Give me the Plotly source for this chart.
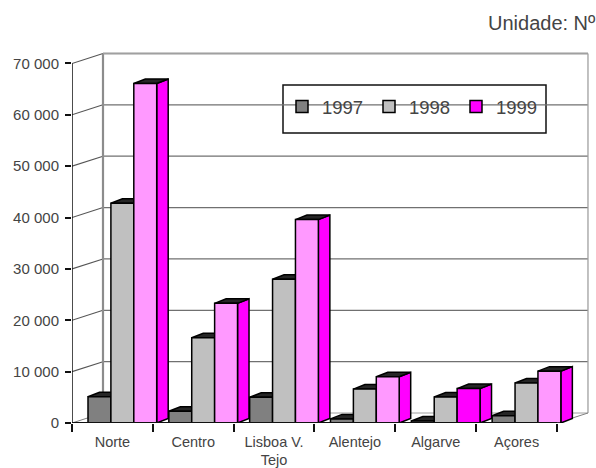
import plotly.graph_objects as go

regions = ["Norte", "Centro", "Lisboa V.<br>Tejo", "Alentejo", "Algarve", "Açores"]
values_1997 = [5100, 2300, 5000, 800, 400, 1400]
values_1998 = [42800, 16600, 28000, 6600, 5050, 7800]
values_1999 = [66100, 23300, 39600, 9000, 6700, 10100]
y_ticks = [0, 10000, 20000, 30000, 40000, 50000, 60000, 70000]
y_tick_labels = ["0", "10 000", "20 000", "30 000", "40 000", "50 000", "60 000", "70 000"]

WIDTH, HEIGHT = 596, 468
LEFT, RIGHT, TOP, BOTTOM = 72, 592, 44, 423.5
X_PX = 80.83            # pixels per category
Y_PX = 360 / 70000      # pixels per unit
x_max = (RIGHT - LEFT) / X_PX
y_max = (BOTTOM - TOP) / Y_PX

WALL_DX, WALL_DY = 31 / X_PX, 10 / Y_PX   # depth of the back wall
BAR_DX, BAR_DY = 11.5 / X_PX, 4.5 / Y_PX  # depth of each bar
BAR_W = 22.9 / X_PX
GROUP_START = 16 / X_PX

GRAY_DARK, GRAY_LIGHT = "#808080", "#c0c0c0"
PINK, MAGENTA = "#ff99ff", "#ff00ff"
INK = "#000000"
WALL = "#8c8c8c"
TEXT = "#444444"

series = [
    ("1997", values_1997, GRAY_DARK, "#5a5a5a"),
    ("1998", values_1998, GRAY_LIGHT, "#8a8a8a"),
    ("1999", values_1999, PINK, MAGENTA),
]


def poly(points, fill, line=INK, width=1.5, layer="below"):
    path = "M " + " L ".join(f"{x},{y}" for x, y in points) + " Z"
    return dict(type="path", path=path, fillcolor=fill, xref="x", yref="y",
                line=dict(color=line, width=width), layer=layer)


def seg(x0, y0, x1, y1, color, width):
    return dict(type="line", x0=x0, y0=y0, x1=x1, y1=y1, xref="x", yref="y",
                line=dict(color=color, width=width), layer="below")


shapes = []

# back wall: gridlines, slanted returns to the value axis, right edge
for v in y_ticks[1:]:
    shapes.append(seg(WALL_DX, v + WALL_DY, 6 + WALL_DX, v + WALL_DY, "#707070", 1.3))
    shapes.append(seg(0, v, WALL_DX, v + WALL_DY, "#555555", 1.1))
shapes.append(seg(WALL_DX, WALL_DY, WALL_DX, 70000 + WALL_DY, WALL, 2.2))
shapes.append(seg(6 + WALL_DX, WALL_DY, 6 + WALL_DX, 70000 + WALL_DY, "#a0a0a0", 1.3))
shapes.append(seg(WALL_DX, 70000 + WALL_DY, 6 + WALL_DX, 70000 + WALL_DY, "#a0a0a0", 1.5))
shapes.append(seg(WALL_DX, WALL_DY, 6 + WALL_DX, WALL_DY, "#a0a0a0", 1.0))
shapes.append(seg(0, 0, WALL_DX, WALL_DY, "#808080", 1.0))
shapes.append(seg(6, 0, 6 + WALL_DX, WALL_DY, "#808080", 1.0))

# side and top faces of every bar, with the fronts drawn over them as bar traces
for g in range(len(regions)):
    for s, (_, vals, _, side) in enumerate(series):
        x0 = g + GROUP_START + s * BAR_W
        x1 = x0 + BAR_W
        v = vals[g]
        shapes.append(poly([(x1, 0), (x1 + BAR_DX, BAR_DY), (x1 + BAR_DX, v + BAR_DY), (x1, v)], side))
        shapes.append(poly([(x0, v), (x0 + BAR_DX, v + BAR_DY), (x1 + BAR_DX, v + BAR_DY), (x1, v)], "#262626"))

# legend frame
shapes.append(dict(type="rect", xref="paper", yref="paper",
                   x0=(283 - LEFT) / (RIGHT - LEFT), x1=(546 - LEFT) / (RIGHT - LEFT),
                   y0=(BOTTOM - 133) / (BOTTOM - TOP), y1=(BOTTOM - 85) / (BOTTOM - TOP),
                   fillcolor="white", line=dict(color="#111111", width=1.5), layer="below"))

centers = [g + GROUP_START + 1.5 * BAR_W for g in range(len(regions))]


def front(name, idx, vals, color, s, legend=True):
    return go.Bar(
        x=[centers[g] for g in idx], y=[vals[g] for g in idx], name=name,
        width=BAR_W, offset=(s - 1.5) * BAR_W, showlegend=legend,
        marker=dict(color=color, line=dict(color=INK, width=1.5)),
        hoverinfo="x+y",
    )


everywhere = list(range(len(regions)))
algarve = regions.index("Algarve")
others = [g for g in everywhere if g != algarve]

fig = go.Figure([
    front("1997", everywhere, values_1997, GRAY_DARK, 0),
    front("1998", everywhere, values_1998, GRAY_LIGHT, 1),
    front("1999", [algarve], values_1999, MAGENTA, 2),
    front("1999", others, values_1999, PINK, 2, legend=False),
])

fig.update_layout(
    width=WIDTH, height=HEIGHT, barmode="overlay", plot_bgcolor="white", paper_bgcolor="white",
    margin=dict(l=LEFT, r=WIDTH - RIGHT, t=TOP, b=HEIGHT - BOTTOM, pad=0, autoexpand=False),
    font=dict(family="Liberation Sans, Arial, sans-serif", color=TEXT),
    shapes=shapes,
    legend=dict(orientation="h", x=(282 - LEFT) / (RIGHT - LEFT), y=(BOTTOM - 88) / (BOTTOM - TOP),
                xanchor="left", yanchor="top", bgcolor="rgba(0,0,0,0)",
                font=dict(size=18.5), entrywidth=42, entrywidthmode="pixels",
                itemwidth=30, traceorder="normal"),
    annotations=[dict(text="Unidade: Nº", xref="paper", yref="paper",
                      x=(596 - LEFT) / (RIGHT - LEFT), y=(BOTTOM - 23) / (BOTTOM - TOP),
                      xanchor="right", yanchor="middle", showarrow=False, xshift=2,
                      font=dict(size=20, color=TEXT))],
)
fig.update_xaxes(
    range=[0, x_max], tickmode="array", tickvals=[g + 0.5 for g in range(6)], ticktext=regions,
    ticks="", tickfont=dict(size=14.5), ticklabelstandoff=8,
    showgrid=False, zeroline=False, showline=False,
    minor=dict(tickmode="array", tickvals=list(range(7)), ticks="outside", ticklen=8,
               tickcolor="#111111", tickwidth=1.5, showgrid=False),
)
fig.update_yaxes(
    range=[0, y_max], tickmode="array", tickvals=y_ticks, ticktext=y_tick_labels,
    ticks="outside", ticklen=6, tickwidth=1.5, tickcolor="#111111", tickfont=dict(size=15),
    ticklabelstandoff=3, showgrid=False, zeroline=False, showline=False,
)

# value axis and baseline sit above the faces
fig.add_shape(type="line", x0=0, x1=0, y0=0, y1=70000, xref="x", yref="y",
              line=dict(color="#111111", width=1.5), layer="above")
fig.add_shape(type="line", x0=0, x1=6, y0=0, y1=0, xref="x", yref="y",
              line=dict(color="#111111", width=2), layer="above")

fig.write_html("out.html")
